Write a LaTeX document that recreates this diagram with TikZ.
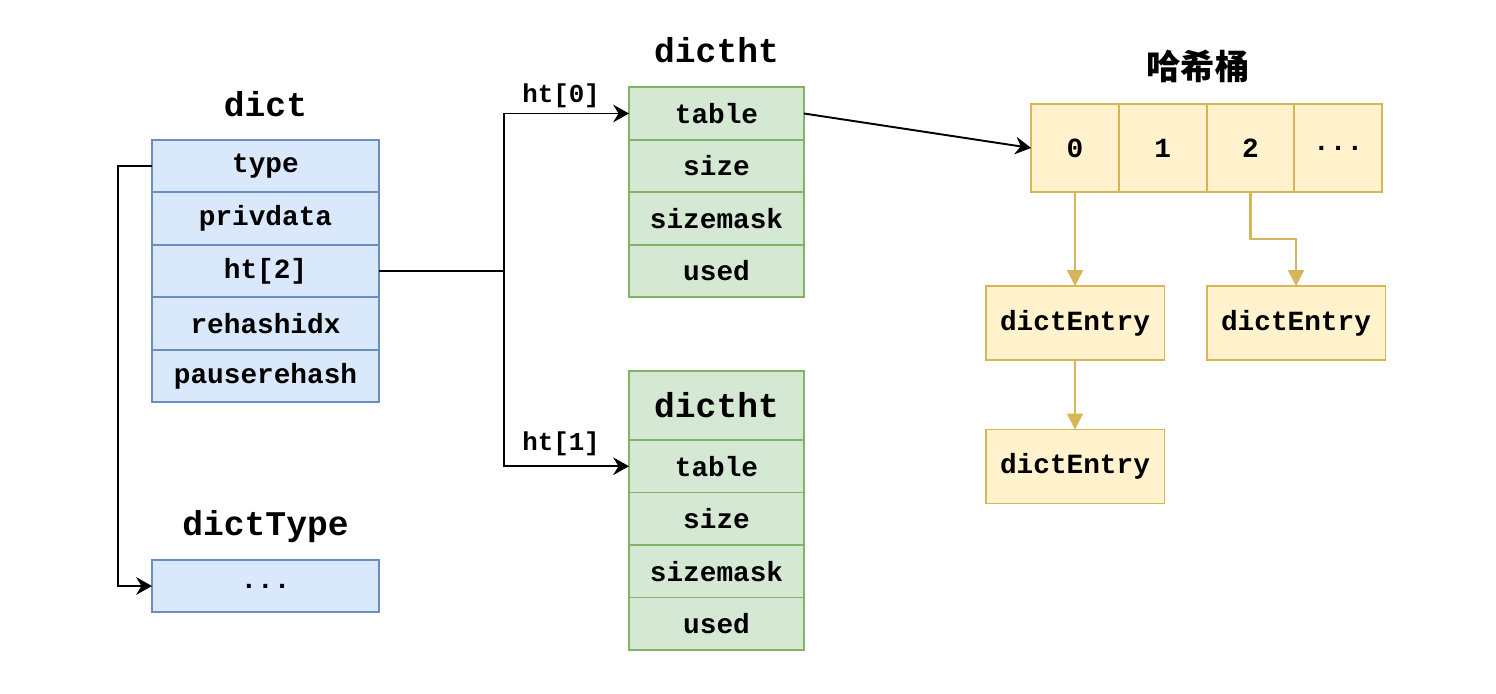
\documentclass[tikz,border=0pt]{standalone}
\usepackage{fontspec}
\setmonofont{Liberation Mono}
\newfontfamily\cjk{Noto Sans CJK SC}
\usepackage{xcolor}
\usetikzlibrary{arrows.meta,positioning,calc}

\definecolor{blueFill}{HTML}{DAE8FC}
\definecolor{blueLine}{HTML}{6C8EBF}
\definecolor{greenFill}{HTML}{D5E8D4}
\definecolor{greenLine}{HTML}{82B366}
\definecolor{yellowFill}{HTML}{FFF2CC}
\definecolor{yellowLine}{HTML}{D6B656}

\tikzset{
    cellfont/.style={font=\ttfamily\bfseries\fontsize{15.8}{18}\selectfont},
    titlefont/.style={font=\ttfamily\bfseries\fontsize{19.7}{22}\selectfont},
    dictcell/.style={draw=blueLine, fill=blueFill, line width=1.1pt, inner sep=0pt, outer sep=0pt,
        minimum width=4.54cm, minimum height=1.05cm, cellfont},
    htcell/.style={draw=greenLine, fill=greenFill, line width=1.1pt, inner sep=0pt, outer sep=0pt,
        minimum width=3.5cm, minimum height=1.05cm, cellfont},
    bucket/.style={draw=yellowLine, fill=yellowFill, line width=1.1pt, inner sep=0pt, outer sep=0pt,
        minimum width=1.755cm, minimum height=1.76cm, cellfont},
    entry/.style={draw=yellowLine, fill=yellowFill, line width=1.1pt, inner sep=0pt, outer sep=0pt,
        minimum width=3.58cm, minimum height=1.48cm, cellfont},
    link/.style={draw=black, line width=1.1pt, -{Stealth[length=9pt,width=10pt,inset=3pt]}},
    bucketlink/.style={draw=yellowLine, line width=1.2pt, -{Triangle[length=9pt,width=9pt]}}
}

\begin{document}
\begin{tikzpicture}[x=0.02cm, y=-0.02cm]
    \useasboundingbox (0,0) rectangle (1496,693);

    % dict
    \node[titlefont] (dictlabel) at (265.5,104) {dict};
    \node[dictcell] (dtype) at (265.5,166) {type};
    \node[dictcell, below=0pt of dtype] (dprivdata) {privdata};
    \node[dictcell, below=0pt of dprivdata] (dht) {ht[2]};
    \node[dictcell, below=0pt of dht] (drehash) {rehashidx};
    \node[dictcell, below=0pt of drehash] (dpause) {pauserehash};

    % dictType
    \node[titlefont] (typelabel) at (265.5,527) {dictType};
    \node[dictcell, minimum height=1.04cm] (tytype) at (265.5,586) {...};

    % dictht ht[0]
    \node[titlefont] (htlabel) at (716.5,50) {dictht};
    \node[htcell] (h0table) at (716.5,113.5) {table};
    \node[htcell, below=0pt of h0table] (h0size) {size};
    \node[htcell, below=0pt of h0size] (h0mask) {sizemask};
    \node[htcell, below=0pt of h0mask] (h0used) {used};

    % dictht ht[1]
    \node[htcell, minimum height=1.38cm, titlefont] (h1title) at (716.5,405.5) {dictht};
    \node[htcell, below=0pt of h1title] (h1table) {table};
    \node[htcell, below=0pt of h1table] (h1size) {size};
    \node[htcell, below=0pt of h1size] (h1mask) {sizemask};
    \node[htcell, below=0pt of h1mask] (h1used) {used};

    % hash buckets
    \node[font=\cjk\bfseries\fontsize{19.5}{22}\selectfont] (bucketlabel) at (1198,66) {哈希桶};
    \node[bucket] (b0) at (1075,148) {0};
    \node[bucket, right=0pt of b0] (b1) {1};
    \node[bucket, right=0pt of b1] (b2) {2};
    \node[bucket, right=0pt of b2] (b3) {...};

    % entries
    \node[entry] (e1) at (1075,323) {dictEntry};
    \node[entry] (e2) at (1296,323) {dictEntry};
    \node[entry] (e3) at (1075,466.5) {dictEntry};

    % links
    \coordinate (split) at ($(dht.east)+(125,0)$);
    \node[font=\ttfamily\bfseries\fontsize{14.7}{17}\selectfont] (ht0) at (561,96) {ht[0]};
    \node[font=\ttfamily\bfseries\fontsize{14.7}{17}\selectfont] (ht1) at (561,444) {ht[1]};

    \draw[link] (dtype.west) -- ++(-34,0) |- (tytype.west);
    \draw[line width=1.1pt] (dht.east) -- (split);
    \draw[link] (split) |- (h0table.west);
    \draw[link] (split) |- (h1table.west);
    \draw[link] (h0table.east) -- (b0.west);

    \draw[bucketlink] (b0.south) -- (e1.north);
    \draw[bucketlink] (b2.south) -- ++(0,47) -| (e2.north);
    \draw[bucketlink] (e1.south) -- (e3.north);
\end{tikzpicture}
\end{document}
